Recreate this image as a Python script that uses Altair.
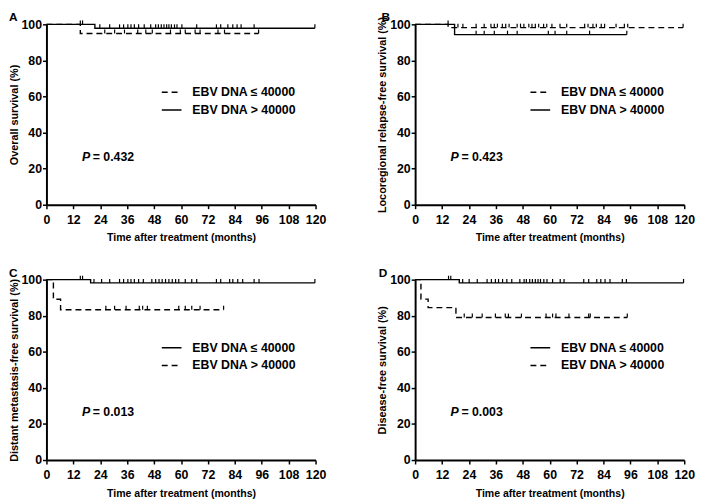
import altair as alt
import pandas as pd

FONT = "Liberation Sans"
G_LE = "EBV DNA ≤ 40000"
G_GT = "EBV DNA > 40000"
GROUPS = [G_LE, G_GT]
X_TICKS = [0, 12, 24, 36, 48, 60, 72, 84, 96, 108, 120]
Y_TICKS = [0, 20, 40, 60, 80, 100]

# ---------- Panel A : Overall survival ----------
A_le_t = [0, 15.1, 94.6]
A_le_s = [100, 94.9, 94.9]
A_le_c = [26, 30.4, 34.8, 40.7, 44.3, 47.2, 55.3, 59.7, 61.9, 66.3, 68.5, 76.5, 79.4, 94.6]
A_gt_t = [0, 21.6, 119.7]
A_gt_s = [100, 97.8, 97.8]
A_gt_c = [15.1, 16.1, 23.8, 28.2, 32.6, 34.4, 36.3, 37.7, 39.2, 41.1, 43.6, 46.5, 48.7,
          49.9, 51.2, 52.4, 53.6, 54.6, 55.7, 57.1, 58.2, 60.4, 67, 75.8, 77.7, 80.9,
          83.1, 85, 86.8, 92.6, 119.7]
A_p = "0.432"

# ---------- Panel B : Locoregional relapse-free survival ----------
B_le_t = [0, 14.7, 119.5]
B_le_s = [100, 98.2, 98.2]
B_le_c = [19.1, 21.3, 27.2, 30.8, 33.8, 35.3, 36.7, 38.9, 40.4, 41.9, 45.5, 47, 48.5,
          50.7, 52.1, 53.6, 55.1, 57.3, 58.7, 61, 64.6, 67.6, 75.6, 77.1, 79.3, 80.8,
          83, 84.5, 89.6, 93.3, 94.8, 119.5]
B_gt_t = [0, 17.6, 94.4]
B_gt_s = [100, 94.3, 94.3]
B_gt_c = [14.7, 27.2, 30.8, 35.3, 41.2, 45.5, 59.4, 62.4, 67.6, 77.8, 94.4]
B_p = "0.423"

# ---------- Panel C : Distant metastasis-free survival ----------
C_le_t = [0, 19.7, 119.7]
C_le_s = [100, 98.2, 98.2]
C_le_c = [15.1, 16.1, 21.2, 24.6, 28.2, 32.6, 34.4, 36.3, 37.7, 39.2, 41.1, 43.2, 47,
          48.7, 50.2, 51.6, 53.1, 54.6, 56.1, 57.6, 59, 61.9, 64.8, 67, 75.8, 77.7,
          81.7, 83.1, 85.3, 87.5, 92.6, 94.8, 119.7]
C_gt_t = [0, 3.1, 6.3, 79]
C_gt_s = [100, 89.1, 83.3, 83.3]
C_gt_c = [26.5, 30.4, 35.5, 41.4, 42.9, 45, 59, 61.9, 64.8, 68.5, 79]
C_p = "0.013"

# ---------- Panel D : Disease-free survival ----------
D_le_t = [0, 19.7, 119.7]
D_le_s = [100, 98.2, 98.2]
D_le_c = [14.9, 15.9, 21.2, 24.1, 27.7, 32.1, 34, 35.8, 37.2, 39, 40.9, 43.1, 46.7,
          48.6, 49.6, 51.1, 52.3, 53.6, 54.8, 55.9, 57.4, 58.8, 61.3, 64.7, 66.4, 75.2,
          77.4, 81, 82.8, 84.7, 86.9, 92.4, 94.2, 119.7]
D_gt_t = [0, 2.6, 5.8, 18.2, 94.6]
D_gt_s = [100, 89.2, 84.5, 79, 79]
D_gt_c = [21.9, 25.5, 29.9, 35.8, 40.2, 41.6, 47.4, 58.4, 61.3, 62.8, 68.6, 77.4, 78.1, 94.6]
D_p = "0.003"

DASH = [6, 4]
SOLID = [1, 0]
P_POS = (15.8, 26.7)   # annotation anchor (months, %)

W, H = 273, 183


def level(ts, ss, c):
    v = ss[0]
    for t, s in zip(ts, ss):
        if t <= c:
            v = s
    return v


def panel(letter, letter_dx, ytitle, le, gt, le_dash, gt_dash, pval):
    line_rows, cens_rows = [], []
    for g, (ts, ss, cs) in ((G_LE, le), (G_GT, gt)):
        line_rows += [{"t": t, "s": s, "g": g} for t, s in zip(ts, ss)]
        cens_rows += [{"t": c, "s": level(ts, ss, c)} for c in cs]
    ldf = pd.DataFrame(line_rows)
    cdf = pd.DataFrame(cens_rows)

    xenc = alt.X("t:Q", scale=alt.Scale(domain=[0, 120], nice=False),
                 axis=alt.Axis(values=X_TICKS, tickCount=len(X_TICKS) + 2,
                               labelOverlap=False,
                               title="Time after treatment (months)"))
    yenc = alt.Y("s:Q", scale=alt.Scale(domain=[0, 100], nice=False),
                 axis=alt.Axis(values=Y_TICKS, tickCount=len(Y_TICKS) + 2,
                               labelOverlap=False, title=ytitle))

    line = alt.Chart(ldf).mark_line(interpolate="step-after", color="black",
                                    strokeWidth=1.4).encode(
        x=xenc, y=yenc,
        strokeDash=alt.StrokeDash(
            "g:N",
            scale=alt.Scale(domain=GROUPS, range=[le_dash, gt_dash]),
            legend=alt.Legend(title=None, orient="none", legendX=116, legendY=58,
                              symbolType="stroke", symbolSize=400,
                              symbolStrokeWidth=1.5, symbolStrokeColor="black",
                              labelFont=FONT, labelFontSize=12.5, labelFontWeight="bold",
                              labelColor="black", labelOffset=10, rowPadding=0,
                              padding=0),
        ),
    )
    cens = alt.Chart(cdf).mark_rule(color="black", strokeWidth=1.2, y2Offset=-4).encode(
        x="t:Q", y="s:Q", y2="s:Q")

    pdf = pd.DataFrame({"t": [P_POS[0]], "s": [P_POS[1]]})
    ptxt = alt.Chart(pdf).mark_text(text="P", font=FONT, fontSize=12.5, fontWeight="bold",
                                    fontStyle="italic", align="left", baseline="middle",
                                    color="black").encode(x="t:Q", y="s:Q")
    vtxt = alt.Chart(pdf).mark_text(text="= " + pval, font=FONT, fontSize=12.5,
                                    fontWeight="bold", align="left", baseline="middle",
                                    dx=11, color="black").encode(x="t:Q", y="s:Q")

    ldf_letter = pd.DataFrame({"l": [letter]})
    ltxt = alt.Chart(ldf_letter).mark_text(font=FONT, fontSize=12, fontWeight="bold",
                                           align="left", baseline="top",
                                           color="black").encode(
        x=alt.value(letter_dx), y=alt.value(-12), text="l:N")

    return alt.layer(line, cens, ptxt, vtxt, ltxt).properties(width=W, height=H)


pa = panel("A", -38, "Overall survival (%)", (A_le_t, A_le_s, A_le_c),
           (A_gt_t, A_gt_s, A_gt_c), DASH, SOLID, A_p)
pb = panel("B", -34, "Locoregional relapse-free survival (%)", (B_le_t, B_le_s, B_le_c),
           (B_gt_t, B_gt_s, B_gt_c), DASH, SOLID, B_p)
pc = panel("C", -38, "Distant metastasis-free survival (%)", (C_le_t, C_le_s, C_le_c),
           (C_gt_t, C_gt_s, C_gt_c), SOLID, DASH, C_p)
pd_ = panel("D", -37, "Disease-free survival (%)", (D_le_t, D_le_s, D_le_c),
            (D_gt_t, D_gt_s, D_gt_c), SOLID, DASH, D_p)

chart = alt.concat(pa, pb, pc, pd_, columns=2,
                   spacing=alt.RowColnumber(row=76, column=101),
                   bounds="flush").resolve_scale(
    strokeDash="independent").resolve_legend(strokeDash="independent").properties(
    padding={"left": 0, "top": 0, "right": 5, "bottom": 0}
).configure_axis(
    domainColor="black", domainWidth=2, tickColor="black", tickWidth=1.5, tickSize=4,
    labelFont=FONT, labelFontSize=12.5, labelFontWeight="bold", labelColor="black",
    labelPadding=1, labelFlush=False, labelOverlap=False,
    titleFont=FONT, titleFontSize=11, titleFontWeight="bold", titleColor="black",
    titlePadding=2, grid=False,
).configure_axisX(labelPadding=5, titlePadding=7, titleFontSize=10.7).configure_view(stroke=None)

chart.save("out.html", embed_options={"renderer": "svg", "actions": False})
